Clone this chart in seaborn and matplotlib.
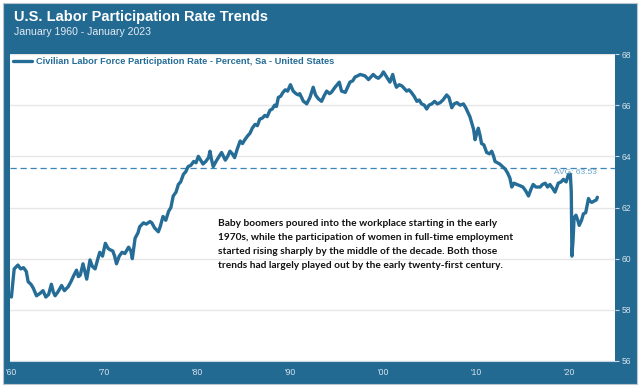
import pandas as pd
import matplotlib.pyplot as plt
import matplotlib.patches as mpatches
import seaborn as sns

# ----------------------------------------------------------
# Data
# ----------------------------------------------------------
years = [
    1960.0, 1960.3, 1960.7, 1961.0, 1961.3, 1961.6, 1961.8, 1962.1, 1962.35, 1962.7,
    1963.1, 1963.4, 1963.7, 1964.0, 1964.3, 1964.5, 1964.7, 1965.0, 1965.4, 1965.7,
    1966.1, 1966.4, 1966.65, 1967.0, 1967.2, 1967.4, 1967.7, 1967.9, 1968.1, 1968.45,
    1968.7, 1969.0, 1969.3, 1969.5, 1969.8, 1970.1, 1970.4, 1970.6, 1970.9, 1971.1,
    1971.3, 1971.6, 1971.9, 1972.2, 1972.6, 1972.85, 1973.0, 1973.3, 1973.6, 1973.8,
    1974.2, 1974.5, 1974.9, 1975.1, 1975.4, 1975.8, 1976.0, 1976.3, 1976.6, 1976.9,
    1977.15, 1977.4, 1977.7, 1977.95, 1978.2, 1978.5, 1978.75, 1979.0, 1979.3, 1979.6,
    1979.85, 1980.1, 1980.35, 1980.6, 1980.9, 1981.2, 1981.35, 1981.5, 1981.7, 1982.0,
    1982.25, 1982.6, 1982.8, 1983.0, 1983.25, 1983.5, 1983.75, 1984.0, 1984.3, 1984.6,
    1984.85, 1985.1, 1985.4, 1985.65, 1985.9, 1986.2, 1986.45, 1986.7, 1987.0, 1987.25,
    1987.5, 1987.8, 1988.05, 1988.3, 1988.5, 1988.7, 1988.95, 1989.2, 1989.45, 1989.7,
    1990.0, 1990.3, 1990.6, 1990.85, 1991.0, 1991.4, 1991.6, 1991.75, 1992.1, 1992.45,
    1992.7, 1993.0, 1993.35, 1993.6, 1993.9, 1994.2, 1994.4, 1994.8, 1995.25, 1995.5,
    1995.9, 1996.15, 1996.4, 1996.7, 1996.95, 1997.25, 1997.5, 1998.0, 1998.4, 1998.65,
    1998.9, 1999.2, 1999.45, 1999.75, 2000.0, 2000.35, 2000.7, 2001.0, 2001.2, 2001.4,
    2001.7, 2002.0, 2002.25, 2002.5, 2002.75, 2003.0, 2003.3, 2003.6, 2003.85, 2004.1,
    2004.4, 2004.65, 2004.9, 2005.2, 2005.5, 2005.8, 2006.1, 2006.4, 2006.8, 2007.05,
    2007.35, 2007.6, 2007.9, 2008.25, 2008.6, 2008.85, 2009.1, 2009.3, 2009.5, 2009.7,
    2009.85, 2010.0, 2010.2, 2010.4, 2010.55, 2010.8, 2011.1, 2011.4, 2011.65, 2011.85,
    2012.0, 2012.25, 2012.5, 2012.8, 2013.1, 2013.35, 2013.6, 2013.8, 2014.05, 2014.35,
    2014.7, 2015.0, 2015.3, 2015.6, 2015.85, 2016.1, 2016.4, 2016.85, 2017.1, 2017.4,
    2017.65, 2017.9, 2018.2, 2018.45, 2018.8, 2019.1, 2019.35, 2019.65, 2019.9, 2020.1,
    2020.2, 2020.27, 2020.4, 2020.5, 2020.7, 2020.9, 2021.05, 2021.3, 2021.5, 2021.75,
    2022.05, 2022.2, 2022.4, 2022.65, 2022.9, 2023.0,
]
rate = [
    58.5, 59.6, 59.75, 59.6, 59.65, 59.5, 59.1, 59.0, 58.85, 58.55,
    58.65, 58.75, 58.5, 58.6, 59.0, 58.7, 58.55, 58.7, 58.95, 58.75,
    58.9, 59.1, 59.3, 59.55, 59.3, 59.35, 59.8, 59.5, 59.2, 59.95,
    59.7, 59.6, 60.0, 60.25, 60.1, 60.6, 60.4, 60.35, 60.3, 60.1,
    59.8, 60.1, 60.25, 60.2, 60.45, 60.3, 60.0, 60.8, 61.0, 61.25,
    61.4, 61.35, 61.45, 61.4, 61.2, 61.05, 61.25, 61.65, 61.5, 61.85,
    62.0, 62.45, 62.6, 62.9, 63.0, 63.3, 63.4, 63.6, 63.65, 63.8,
    63.75, 64.0, 63.85, 63.7, 63.8, 63.95, 64.2, 63.9, 63.6, 63.8,
    63.95, 64.15, 64.0, 63.85, 64.0, 64.2, 64.1, 63.95, 64.3, 64.6,
    64.5, 64.65, 64.8, 64.9, 65.1, 65.25, 65.2, 65.45, 65.5, 65.6,
    65.55, 65.8, 65.85, 66.0, 65.95, 66.3, 66.35, 66.5, 66.6, 66.55,
    66.8, 66.55, 66.45, 66.4, 66.45, 66.15, 66.1, 66.05, 66.3, 66.7,
    66.4, 66.25, 66.15, 66.35, 66.55, 66.45, 66.5, 66.7, 66.9, 66.55,
    66.5, 66.7, 66.9, 66.95, 67.1, 67.15, 67.2, 67.15, 67.0, 67.1,
    67.2, 67.1, 67.05, 67.15, 67.3, 67.1, 66.9, 67.2, 66.9, 66.7,
    66.8, 66.75, 66.65, 66.55, 66.6, 66.5, 66.35, 66.15, 66.2, 66.05,
    66.0, 65.85, 66.0, 66.05, 66.15, 66.05, 66.1, 66.2, 66.4, 66.3,
    65.9, 66.05, 66.1, 66.0, 66.05, 65.9, 65.7, 65.55, 65.3, 65.05,
    64.65, 64.85, 65.1, 64.8, 64.5, 64.45, 64.15, 64.1, 64.2, 64.0,
    63.8, 63.75, 63.7, 63.6, 63.5, 63.35, 63.15, 62.8, 62.95, 62.9,
    62.85, 62.8, 62.65, 62.45, 62.7, 62.9, 62.8, 62.8, 62.9, 62.95,
    62.8, 62.9, 62.75, 62.6, 62.95, 63.0, 63.1, 63.0, 63.3, 63.3,
    62.6, 60.1, 60.8, 61.6, 61.7, 61.5, 61.3, 61.5, 61.75, 61.8,
    62.35, 62.25, 62.2, 62.25, 62.3, 62.4,
]
avg_rate = 63.53

decades = [1960, 1970, 1980, 1990, 2000, 2010, 2020]
decade_labels = ["'60", "'70", "'80", "'90", "'00", "'10", "'20"]
y_ticks = [56, 58, 60, 62, 64, 66, 68]

series_name = "Civilian Labor Force Participation Rate - Percent, Sa - United States"
note = ("Baby boomers poured into the workplace starting in the early\n"
        "1970s, while the participation of women in full-time employment\n"
        "started rising sharply by the middle of the decade. Both those\n"
        "trends had largely played out by the early twenty-first century.")

df = pd.DataFrame({"year": years, "rate": rate})

# ----------------------------------------------------------
# Style
# ----------------------------------------------------------
BG = "#236a93"
LINE = "#256d97"
LIGHT = "#d7e3ec"

sns.set_style("white")
plt.rcParams["font.family"] = ["Liberation Sans", "DejaVu Sans"]

fig = plt.figure(figsize=(6.4, 3.87), dpi=100, facecolor="white")
fig.patches.append(mpatches.Rectangle(
    (3 / 640, 3 / 387), 634 / 640, 381 / 387, transform=fig.transFigure,
    facecolor=BG, edgecolor="#b9c6d0", linewidth=0.8, zorder=-5))

ax = fig.add_axes([10 / 640, 1 - 361 / 387, 605 / 640, 307 / 387])
ax.set_zorder(2)
ax.set_facecolor("white")

sns.lineplot(data=df, x="year", y="rate", ax=ax, color=LINE, linewidth=2.4,
             estimator=None, label=series_name, zorder=3)

ax.axhline(avg_rate, color="#3a86bb", linewidth=0.9, linestyle=(0, (5, 3)), zorder=2)
ax.text(2022.9, avg_rate - 0.04, f"AVG: {avg_rate:.2f}", ha="right", va="top",
        fontsize=6, color="#6aa3cc", zorder=4)

ax.set_xlim(1959.85, 2024.9)
ax.set_ylim(56, 68)
ax.set_xticks(decades)
ax.set_xticklabels(decade_labels)
ax.set_yticks(y_ticks)
ax.yaxis.tick_right()
ax.grid(axis="y", color="#e6e6e6", linewidth=1)
ax.set_xlabel("")
ax.set_ylabel("")
ax.tick_params(axis="both", colors="#c9d6e0", labelcolor=LIGHT, labelsize=6.2,
               length=3, width=0.8, pad=2)
for side in ["top", "left", "right"]:
    ax.spines[side].set_visible(False)
ax.spines["bottom"].set_color("#c9d6e0")
ax.spines["bottom"].set_linewidth(0.8)

leg = ax.legend(loc="upper left", frameon=False, fontsize=6.7, handlelength=2.0,
                borderaxespad=0.15, borderpad=0.2, handletextpad=0.45)
for t in leg.get_texts():
    t.set_color(LINE)
    t.set_fontweight("bold")

ax.text(1982.25, 61.57, note, fontsize=7.3, fontweight="bold", color="#111111",
        family=["Lato", "DejaVu Sans"], va="top", ha="left", linespacing=1.72,
        zorder=5)

fig.text(14 / 640, 1 - 17 / 387, "U.S. Labor Participation Rate Trends",
         fontsize=10.5, fontweight="bold", color="white", va="center")
fig.text(14 / 640, 1 - 32 / 387, "January 1960 - January 2023",
         fontsize=7.6, color="#e3ebf2", va="center")

fig.savefig("out.png", dpi=100, facecolor=fig.get_facecolor())
